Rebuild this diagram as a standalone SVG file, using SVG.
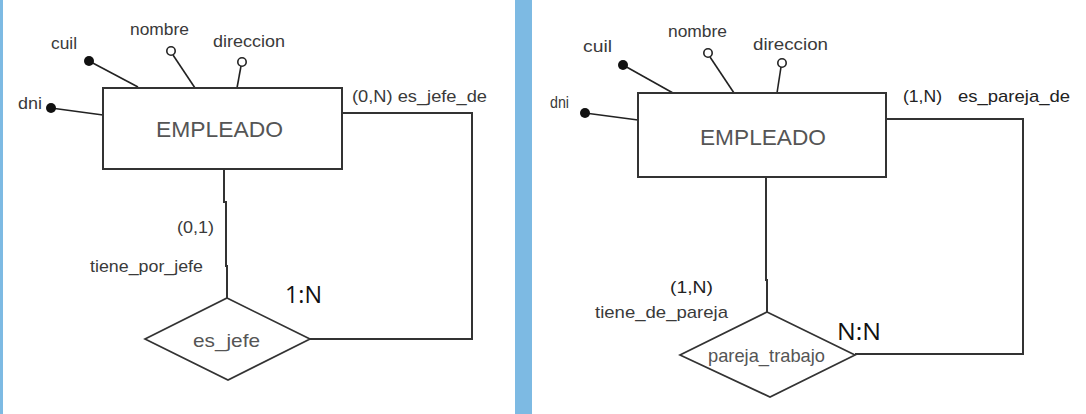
<svg xmlns="http://www.w3.org/2000/svg" width="1086" height="414" viewBox="0 0 1086 414">
<style>
.bg{fill:#ffffff}
.band{fill:#7dbae3}
.ent{fill:#ffffff;stroke:#333333;stroke-width:2}
.rel{fill:#ffffff;stroke:#333333;stroke-width:1.7}
.ln{fill:none;stroke:#333333;stroke-width:2}
.aln{fill:none;stroke:#222222;stroke-width:1.6}
.key{fill:#111111}
.opt{fill:#ffffff;stroke:#222222;stroke-width:1.6}
.lbl{font-family:"Liberation Sans",Arial,sans-serif;font-size:17px;fill:#3a3a3a}
.dark{fill:#222222}
.ename{font-family:"Liberation Sans",Arial,sans-serif;font-size:22px;fill:#555555}
.rname{font-family:"Liberation Sans",Arial,sans-serif;font-size:19px;fill:#555555}
.card{font-family:"Open Sans","Noto Sans",sans-serif;font-size:24px;fill:#111111}
</style>
<rect class="bg" x="0" y="0" width="1086" height="414"/>
<rect class="band" x="0" y="0" width="3" height="414"/>
<rect class="band" x="515" y="0" width="17" height="414"/>

<g id="connectors">
  <polyline class="ln" points="342,113 472,113 472,339 310,339"/>
  <polyline class="ln" points="224,169 224,202 226,202 226,266 227,266 227,298"/>
  <line class="aln" x1="89" y1="61" x2="138" y2="87"/>
  <line class="aln" x1="173" y1="55" x2="195" y2="88"/>
  <line class="aln" x1="241" y1="66" x2="237" y2="88"/>
  <line class="aln" x1="51" y1="108" x2="103" y2="115"/>
  <polyline class="ln" points="886,119 1023,119 1023,354 855,354"/>
  <polyline class="ln" points="766,177 766,280 767,280 767,312"/>
  <line class="aln" x1="623" y1="65" x2="673" y2="93"/>
  <line class="aln" x1="710" y1="57" x2="734" y2="93"/>
  <line class="aln" x1="781" y1="67" x2="777" y2="93"/>
  <line class="aln" x1="585" y1="113" x2="638" y2="120"/>
</g>

<g id="left-empleado">
  <rect class="ent" x="103" y="88" width="239" height="81"/>
  <text class="ename" x="156" y="137" textLength="127" lengthAdjust="spacingAndGlyphs">EMPLEADO</text>
</g>
<g id="left-cuil">
  <circle class="key" cx="89" cy="61" r="5"/>
  <text class="lbl" x="51" y="49" textLength="26" lengthAdjust="spacingAndGlyphs">cuil</text>
</g>
<g id="left-nombre">
  <circle class="opt" cx="171" cy="51" r="4.2"/>
  <text class="lbl" x="130" y="35" textLength="59" lengthAdjust="spacingAndGlyphs">nombre</text>
</g>
<g id="left-direccion">
  <circle class="opt" cx="242" cy="62" r="4.2"/>
  <text class="lbl" x="213" y="47" textLength="72" lengthAdjust="spacingAndGlyphs">direccion</text>
</g>
<g id="left-dni">
  <circle class="key" cx="51" cy="108" r="5"/>
  <text class="lbl" x="18" y="109" textLength="24" lengthAdjust="spacingAndGlyphs">dni</text>
</g>
<g id="left-es_jefe">
  <polygon class="rel" points="227,298 310,339 228,380 145,339"/>
  <text class="rname" x="193" y="347" font-size="20" textLength="67" lengthAdjust="spacingAndGlyphs">es_jefe</text>
</g>
<g id="left-labels">
  <text class="lbl" x="352" y="102" textLength="135" lengthAdjust="spacingAndGlyphs">(0,N) es_jefe_de</text>
  <text class="lbl" x="177" y="233" textLength="37" lengthAdjust="spacingAndGlyphs">(0,1)</text>
  <text class="lbl" x="90" y="272" textLength="113" lengthAdjust="spacingAndGlyphs">tiene_por_jefe</text>
  <text class="card" x="285" y="303" textLength="37" lengthAdjust="spacingAndGlyphs">1:N</text>
</g>

<g id="right-empleado">
  <rect class="ent" x="638" y="93" width="248" height="84"/>
  <text class="ename" x="700" y="145" textLength="126" lengthAdjust="spacingAndGlyphs">EMPLEADO</text>
</g>
<g id="right-cuil">
  <circle class="key" cx="623" cy="65" r="5"/>
  <text class="lbl" x="583" y="52" textLength="29" lengthAdjust="spacingAndGlyphs">cuil</text>
</g>
<g id="right-nombre">
  <circle class="opt" cx="708" cy="53" r="4.2"/>
  <text class="lbl" x="668" y="37" textLength="59" lengthAdjust="spacingAndGlyphs">nombre</text>
</g>
<g id="right-direccion">
  <circle class="opt" cx="782" cy="63" r="4.2"/>
  <text class="lbl" x="753" y="50" textLength="75" lengthAdjust="spacingAndGlyphs">direccion</text>
</g>
<g id="right-dni">
  <circle class="key" cx="585" cy="113" r="5"/>
  <text class="lbl" x="550" y="108" font-size="16" textLength="19" lengthAdjust="spacingAndGlyphs">dni</text>
</g>
<g id="right-pareja_trabajo">
  <polygon class="rel" points="767,312 855,355 770,397 680,355"/>
  <text class="rname" x="708" y="362" textLength="117" lengthAdjust="spacingAndGlyphs">pareja_trabajo</text>
</g>
<g id="right-labels">
  <text class="lbl dark" x="903" y="102" textLength="39" lengthAdjust="spacingAndGlyphs">(1,N)</text>
  <text class="lbl dark" x="958" y="102" textLength="112" lengthAdjust="spacingAndGlyphs">es_pareja_de</text>
  <text class="lbl dark" x="670" y="293" font-size="18" textLength="43" lengthAdjust="spacingAndGlyphs">(1,N)</text>
  <text class="lbl" x="595" y="318" textLength="133" lengthAdjust="spacingAndGlyphs">tiene_de_pareja</text>
  <text class="card" x="837" y="340" textLength="44" lengthAdjust="spacingAndGlyphs">N:N</text>
</g>
</svg>
